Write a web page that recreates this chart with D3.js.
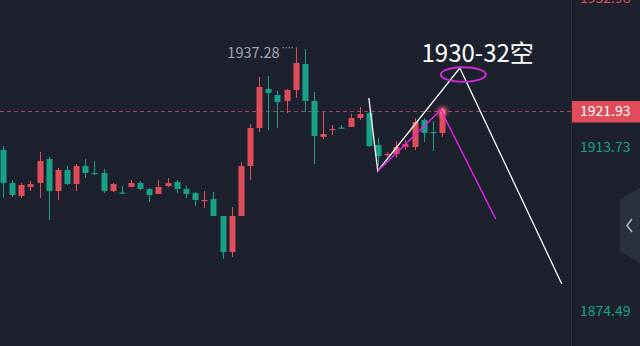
<!DOCTYPE html>
<html>
<head>
<meta charset="utf-8">
<script src="https://cdn.jsdelivr.net/npm/d3@7"></script>
<style>
  html, body { margin: 0; padding: 0; background: #1c212d; overflow: hidden; }
  svg { display: block; }
</style>
</head>
<body>
<script>
var width = 640, height = 346
var plotRight = 571.5

// candles, oldest first (red = up, green = down)
var opens  = [1912.73,1904.84,1901.73,1903.89,1904.84,1910.58,1902.93,1907.95,1904.60,1908.90,
              1907.23,1907.23,1902.93,1902.57,1903.89,1904.84,1903.41,1902.21,1904.12,1905.08,
              1903.41,1902.45,1900.54,1901.02,1896.95,1888.35,1896.95,1908.90,1917.99,1927.31,
              1925.87,1924.44,1927.07,1933.28,1924.44,1915.84,1917.51,1918.10,1918.23,1920.38,
              1921.57,1913.92,1911.53,1911.77,1913.45,1913.45,1919.90,1917.03,1916.79]
var highs  = [1913.68,1905.56,1904.84,1905.32,1912.25,1911.06,1908.43,1908.90,1909.38,1910.58,
              1910.10,1908.19,1904.84,1904.12,1905.56,1905.32,1903.65,1905.56,1906.04,1905.56,
              1904.12,1902.69,1902.93,1902.69,1896.95,1899.10,1909.86,1918.94,1930.18,1930.41,
              1926.83,1927.31,1937.28,1936.87,1926.59,1921.81,1918.70,1918.70,1921.33,1923.01,
              1921.81,1915.60,1912.25,1914.88,1915.12,1920.38,1920.38,1919.66,1922.77]
var lows   = [1901.26,1901.49,1901.26,1902.93,1901.26,1896.00,1900.78,1904.36,1902.93,1906.04,
              1906.75,1902.45,1902.69,1902.30,1903.89,1903.17,1900.30,1902.21,1903.89,1902.45,
              1901.26,1899.34,1898.87,1896.95,1886.68,1887.15,1896.95,1905.56,1917.03,1917.51,
              1917.99,1921.57,1925.16,1921.81,1909.38,1915.36,1916.31,1917.75,1918.23,1919.90,
              1913.45,1908.90,1911.06,1910.82,1912.73,1912.73,1914.64,1912.49,1915.84]
var closes = [1904.84,1901.97,1904.36,1904.60,1910.10,1902.93,1907.95,1904.60,1908.90,1907.23,
              1906.99,1902.93,1904.60,1902.33,1904.84,1903.41,1901.97,1903.89,1904.84,1903.41,
              1902.21,1900.78,1900.78,1896.95,1888.35,1896.95,1908.90,1917.99,1927.79,1926.35,
              1924.20,1927.07,1933.52,1924.44,1916.07,1916.55,1917.75,1917.99,1920.38,1921.33,
              1913.68,1911.29,1911.77,1913.45,1914.16,1919.42,1916.79,1916.79,1921.93]

var lastPrice = 1921.93
var highLabel = "1937.28"
var axisLabels = [1913.73, 1874.49]
var topAxisLabel = "1952.98"

// hand drawn annotation, [candle index, price]
var whiteLine   = [[40.0, 1925.16], [40.98, 1907.71], [49.95, 1932.33], [61.1, 1880.70]]
var magentaLine = [[40.98, 1907.71], [47.87, 1922.29], [53.88, 1896.24]]
var targetZone  = [50.33, 1930.77]
var noteText    = "1930-32空"
var notePos     = [51.9, 1933.76]

var red = "#e04c5a", green = "#17a287"

var x = d3.scaleLinear().domain([0, 48]).range([3, 442])
var y = d3.scaleLinear().domain([1874.49, 1921.93]).range([310, 111.5])

var svg = d3.select("body").append("svg")
    .attr("width", width)
    .attr("height", height)

svg.append("rect").attr("width", width).attr("height", height).attr("fill", "#1c212d")

var defs = svg.append("defs")
defs.append("filter").attr("id", "glow").attr("x", "-100%").attr("y", "-100%").attr("width", "300%").attr("height", "300%")
    .append("feGaussianBlur").attr("stdDeviation", 2.2)

// current price dashed line
svg.append("line")
    .attr("x1", 0).attr("x2", plotRight)
    .attr("y1", y(lastPrice)).attr("y2", y(lastPrice))
    .attr("stroke", "#9a4860")
    .attr("stroke-width", 1)
    .attr("stroke-dasharray", "4,3")

// candles
var candles = d3.range(opens.length).map(function(i){
    return {i: i, o: opens[i], h: highs[i], l: lows[i], c: closes[i]}
})

var g = svg.append("g")
g.selectAll(".wick").data(candles).enter().append("line")
    .attr("x1", function(d){ return Math.round(x(d.i)) + 0.5 })
    .attr("x2", function(d){ return Math.round(x(d.i)) + 0.5 })
    .attr("y1", function(d){ return y(d.h) })
    .attr("y2", function(d){ return y(d.l) })
    .attr("stroke", function(d){ return d.c >= d.o ? red : green })
    .attr("stroke-width", 1)

g.selectAll(".body").data(candles).enter().append("rect")
    .attr("x", function(d){ return Math.round(x(d.i)) - 2.5 })
    .attr("width", 6)
    .attr("y", function(d){ return y(Math.max(d.o, d.c)) })
    .attr("height", function(d){ return Math.max(1.2, Math.abs(y(d.o) - y(d.c))) })
    .attr("fill", function(d){ return d.c >= d.o ? red : green })

// highest price marker
var hiIdx = d3.maxIndex(highs)
svg.append("line")
    .attr("x1", x(hiIdx) - 13).attr("x2", x(hiIdx) - 1)
    .attr("y1", y(highs[hiIdx]) + 0.5).attr("y2", y(highs[hiIdx]) + 0.5)
    .attr("stroke", "#c8ccd4").attr("stroke-width", 1).attr("stroke-dasharray", "1,2")
svg.append("text")
    .attr("x", x(hiIdx) - 16)
    .attr("y", y(highs[hiIdx]) + 11)
    .attr("text-anchor", "end")
    .attr("font-family", "Noto Sans CJK SC")
    .attr("font-size", 14.5)
    .attr("fill", "#a3a7b0")
    .text(highLabel)

// glow on last candle
var last = candles[candles.length - 1]
svg.append("circle")
    .attr("cx", Math.round(x(last.i)) + 0.5).attr("cy", y(last.c))
    .attr("r", 4.5)
    .attr("fill", "#ff6470")
    .attr("filter", "url(#glow)")
svg.append("circle")
    .attr("cx", Math.round(x(last.i)) + 0.5).attr("cy", y(last.c))
    .attr("r", 2.5)
    .attr("fill", "#ff7a86")

// annotation drawing
var line = d3.line().x(function(d){ return x(d[0]) }).y(function(d){ return y(d[1]) })
svg.append("path").attr("d", line(whiteLine))
    .attr("fill", "none").attr("stroke", "#ffffff").attr("stroke-width", 1.3)
svg.append("path").attr("d", line(magentaLine))
    .attr("fill", "none").attr("stroke", "#e021e6").attr("stroke-width", 1.5)
svg.append("ellipse")
    .attr("cx", x(targetZone[0])).attr("cy", y(targetZone[1]))
    .attr("rx", 22.5).attr("ry", 7.3)
    .attr("fill", "none").attr("stroke", "#cc2ad4").attr("stroke-width", 2)
svg.append("text")
    .attr("x", x(notePos[0])).attr("y", y(notePos[1]))
    .attr("text-anchor", "middle")
    .attr("font-family", "Noto Sans CJK SC")
    .attr("font-size", 24)
    .attr("fill", "#ffffff")
    .text(noteText)

// right price axis
svg.append("line")
    .attr("x1", plotRight).attr("x2", plotRight).attr("y1", 0).attr("y2", height)
    .attr("stroke", "#2b303c").attr("stroke-width", 1)

svg.append("text")
    .attr("x", 580).attr("y", 3)
    .attr("font-family", "Noto Sans CJK SC").attr("font-size", 14)
    .attr("fill", red)
    .text(topAxisLabel)

svg.selectAll(".axlab").data(axisLabels).enter().append("text")
    .attr("x", 580)
    .attr("y", function(d){ return y(d) + 1.5 })
    .attr("dy", "0.35em")
    .attr("font-family", "Noto Sans CJK SC").attr("font-size", 14)
    .attr("fill", green)
    .text(function(d){ return d.toFixed(2) })

svg.append("rect")
    .attr("x", 572).attr("y", y(lastPrice) - 10.5)
    .attr("width", 68).attr("height", 21.5)
    .attr("fill", "#e04c5a")
svg.append("text")
    .attr("x", 580).attr("y", y(lastPrice))
    .attr("dy", "0.35em")
    .attr("font-family", "Noto Sans CJK SC").attr("font-size", 14)
    .attr("fill", "#ffffff")
    .text(lastPrice.toFixed(2))

// collapse tab
svg.append("path")
    .attr("d", "M640,188 L620,199 L620,252 L640,263 Z")
    .attr("fill", "#2b303d")
svg.append("path")
    .attr("d", "M632,219 L627,225.5 L632,232")
    .attr("fill", "none").attr("stroke", "#aeb3bd").attr("stroke-width", 1.6)
</script>
</body>
</html>
